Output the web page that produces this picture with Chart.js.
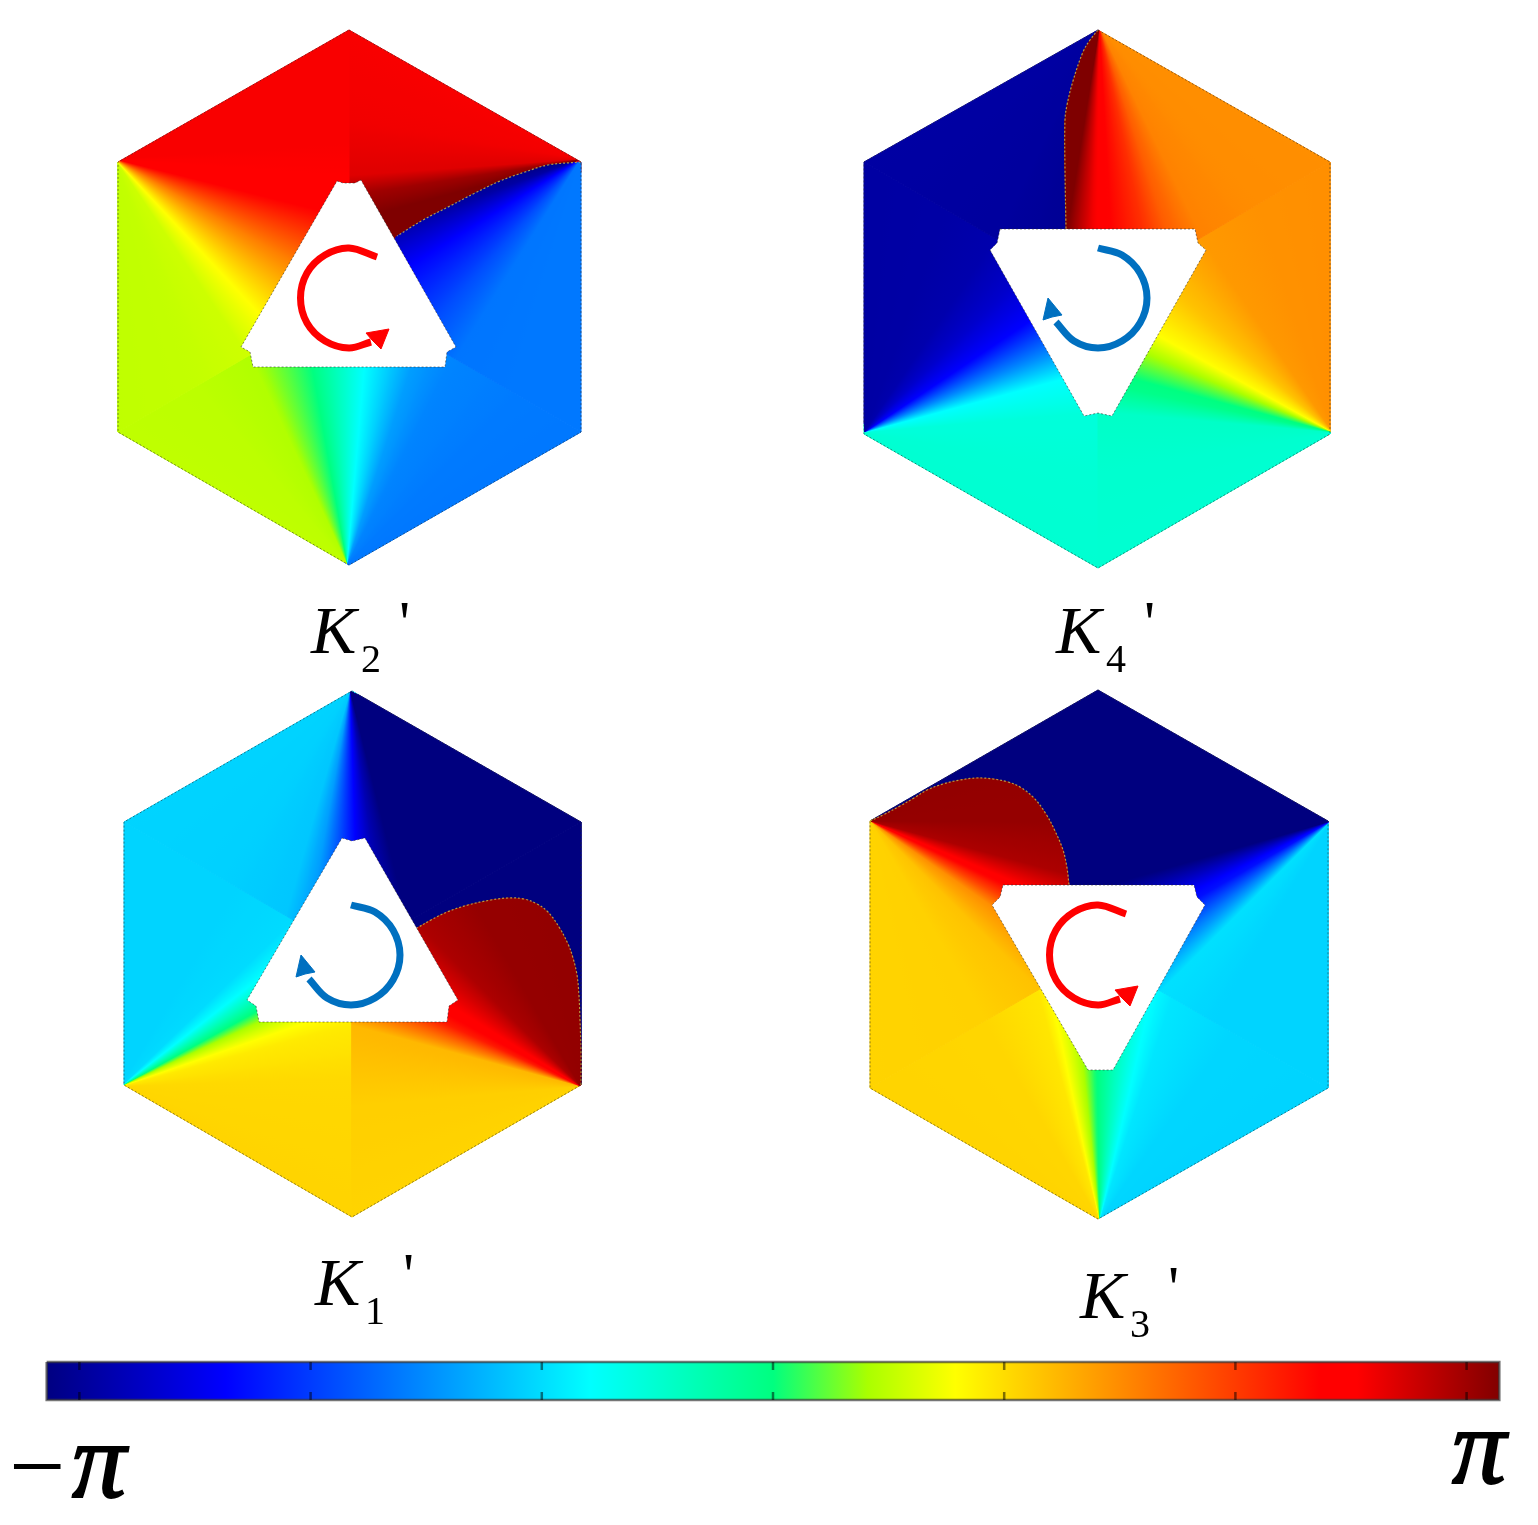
<!DOCTYPE html>
<html>
<head>
<meta charset="utf-8">
<title>Phase maps</title>
<script src="https://cdn.jsdelivr.net/npm/chart.js@4"></script>
<style>
  html, body { margin: 0; padding: 0; background: #fff; }
  canvas { display: block; }
</style>
</head>
<body>
<canvas id="chart" width="1538" height="1525"></canvas>
<script>
// Colour scale: phase in units of pi and the colour it has on the bar
const scalePhases = [-1, -0.75, -0.25, 0, 0.13, 0.25, 0.75, 0.8, 1];
const scaleColors = [[0,0,127],[0,0,255],[0,255,255],[0,255,128],[170,255,0],[255,255,0],[255,0,0],[255,0,0],[127,0,0]];
const barTicks = [-3, -2, -1, 0, 1, 2, 3];

// K2' : hexagon, hole, branch cut, arrow
const k2Hex = [[349,30],[581,162],[581,432],[349,565],[118,432],[118,162]];
const k2Hole = [[337,181],[343,183],[355,183],[361,180],[456,347],[447,352],[445,367],[253,367],[250,352],[241,347]];
const k2Cut = [[581,162],[548,165],[525,172],[500,181],[475,193],[450,206],[423,220],[397,236]];
const k2Arc = [[377,257],[349,248],[325,255],[307,273],[300.5,298],[307,323],[325,341],[349,348],[371,342]];
const k2Head = [[389,329],[366,333],[372,340],[381,349]];
const k2AngA = [-30, -5, 4, 12, 16, 30, 47, 56, 70, 90];
const k2PhaseA = [0.81, 0.81, 0.8, 0.78, 0.72, 0.5, 0.25, 0.18, 0.165, 0.16];
const k2AngB = [90, 105, 122, 132, 148, 160, 172];
const k2PhaseB = [-0.515, -0.515, -0.52, -0.6, -0.75, -0.93, -1];
const k2AngC = [158, 165, 171, 176, 190, 210];
const k2PhaseC = [1, 1, 0.95, 0.85, 0.82, 0.81];
const k2AngD = [210, 230, 245, 260, 275, 288, 297, 315, 330];
const k2PhaseD = [0.16, 0.155, 0.14, 0, -0.25, -0.44, -0.49, -0.51, -0.515];

// K4'
const k4Hex = [[1098,30],[1330,162],[1330,434],[1098,568],[864,434],[864,162]];
const k4Hole = [[1000,229],[1195,229],[1198,243],[1206,250],[1112,416],[1098,413],[1084,416],[990,250],[997,243]];
const k4Cut = [[1098,30],[1090,40],[1083,52],[1073,81],[1067,105],[1065,120],[1065,170],[1066,229]];
const k4Arc = [[1098,248],[1122,255],[1140,273],[1147,298],[1140,323],[1122,341],[1098,348],[1074,341],[1056,322]];
const k4Head = [[1048,298],[1043,320],[1052,317],[1062,315]];
const k4AngA = [30, 50, 64, 72, 78, 88, 92, 99];
const k4PhaseA = [0.47, 0.475, 0.495, 0.57, 0.66, 0.76, 0.82, 1];
const k4AngB = [99, 116, 150];
const k4PhaseB = [-0.96, -0.94, -0.93];
const k4AngC = [150, 170, 185, 192, 195, 203, 209, 222, 236, 252, 270];
const k4PhaseC = [-0.16, -0.155, -0.14, -0.02, 0, 0.13, 0.25, 0.37, 0.45, 0.465, 0.47];
const k4AngD = [-90, -70, -56, -45, -34, -24, -15, -5, 10, 30];
const k4PhaseD = [-0.93, -0.925, -0.91, -0.85, -0.75, -0.5, -0.25, -0.18, -0.165, -0.16];

// K1'
const k1Hex = [[352,691],[581,822],[581,1085],[352,1217],[124,1085],[124,822]];
const k1Hole = [[342,838],[352,841],[365,838],[458,1000],[449,1006],[447,1022],[259,1022],[256,1006],[247,1000]];
const k1Cut = [[581,1085],[581,1050],[580,1020],[579,996],[577,975],[573,958],[568,944],[559,927],[548,912],[537,904],[524,899],[508,898],[491,900],[468,905],[447,912],[431,920],[417,928]];
const k1Arc = [[351,905],[375,912],[393,930],[400,955],[393,980],[375,998],[351,1005],[327,998],[309,979]];
const k1Head = [[301,955],[296,977],[305,974],[315,972]];
const k1AngA = [30, 76, 82, 88, 94, 100, 106, 125, 150];
const k1PhaseA = [-1, -1, -0.9, -0.75, -0.6, -0.44, -0.36, -0.34, -0.335];
const k1AngB = [150, 175, 195, 205, 212, 225, 240, 270];
const k1PhaseB = [0.335, 0.345, 0.39, 0.7, 0.8, 0.93, 0.965, 0.97];
const k1AngC = [270, 300, 316, 322, 331, 335, 341, 345, 358, 390];
const k1PhaseC = [-0.335, -0.335, -0.32, -0.25, 0, 0.13, 0.25, 0.29, 0.325, 0.335];
const k1AngD = [200, 270];
const k1PhaseD = [-1, -1];

// K3'
const k3Hex = [[1098,690],[1328,821],[1328,1088],[1098,1219],[870,1088],[870,821]];
const k3Hole = [[1003,885],[1194,885],[1197,897],[1205,905],[1113,1070],[1088,1070],[992,905],[1000,897]];
const k3Cut = [[870,821],[885,814],[900,806],[914,798],[927,790],[943,784],[960,780],[977,778],[993,779],[1008,782],[1020,787],[1034,798],[1046,814],[1055,831],[1063,850],[1067,868],[1069,885]];
const k3Arc = [[1126,914],[1098,905],[1074,912],[1056,930],[1049.5,955],[1056,980],[1074,998],[1098,1005],[1120,999]];
const k3Head = [[1138,986],[1115,990],[1121,997],[1130,1006]];
const k3AngA = [-30, 0, 15, 24, 30, 35, 45, 60, 90];
const k3PhaseA = [0.97, 0.965, 0.93, 0.78, 0.62, 0.47, 0.37, 0.34, 0.335];
const k3AngB = [90, 120, 135, 140, 150, 153, 164, 210];
const k3PhaseB = [-0.335, -0.335, -0.31, -0.45, -0.72, -0.75, -1, -1];
const k3AngC = [210, 240, 255, 258, 264, 268, 272, 283, 288, 305, 330];
const k3PhaseC = [0.335, 0.33, 0.3, 0.25, 0.13, 0.02, -0.05, -0.25, -0.3, -0.33, -0.335];
const k3AngD = [-30, 40];
const k3PhaseD = [-1, -1];

// Labels under the panels
const labelNames = ['K', 'K', 'K', 'K'];
const labelSubs = ['2', '4', '1', '3'];
const labelX = [311, 1056, 315, 1080];
const labelY = [653, 653, 1305, 1318];

// Chart.js insets the chart area by half of the widest line, the scales make up for it
const lineInset = 3.5;

function lerp(a, b, t) { return a + (b - a) * t; }

function phaseColor(p) {
    let i = 0;
    while (i < scalePhases.length - 2 && p > scalePhases[i + 1]) i++;
    const t = Math.max(0, Math.min(1, (p - scalePhases[i]) / (scalePhases[i + 1] - scalePhases[i])));
    const c = scaleColors[i].map((v, k) => Math.round(lerp(v, scaleColors[i + 1][k], t)));
    return `rgb(${c[0]},${c[1]},${c[2]})`;
}

function fanGradient(chart, corner, angles, phases) {
    const cx = chart.scales.x.getPixelForValue(corner[0]);
    const cy = chart.scales.y.getPixelForValue(corner[1]);
    const start = angles[0] - 6;
    const g = chart.ctx.createConicGradient(start * Math.PI / 180, cx, cy);
    g.addColorStop(0, phaseColor(phases[0]));
    angles.forEach((a, i) => {
        if (i === 0) {
            g.addColorStop((a - start) / 360, phaseColor(phases[0]));
            return;
        }
        for (let s = 1; s <= 8; s++) {
            const t = s / 8;
            g.addColorStop((lerp(angles[i - 1], a, t) - start) / 360, phaseColor(lerp(phases[i - 1], phases[i], t)));
        }
    });
    return g;
}

function barGradient(chart) {
    const left = chart.scales.phase.getPixelForValue(-Math.PI);
    const right = chart.scales.phase.getPixelForValue(Math.PI);
    const g = chart.ctx.createLinearGradient(left, 0, right, 0);
    scalePhases.forEach(p => g.addColorStop((p + 1) / 2, phaseColor(p)));
    return g;
}

function asPoints(list) {
    return list.map(p => ({ x: p[0], y: p[1] }));
}

function closed(list) {
    return asPoints(list.concat([list[0]]));
}

const datasets = [];
const fanSets = [];

function addShape(list, fill, stroke, width, order, dash) {
    const ds = {
        data: closed(list),
        showLine: true,
        fill: fill ? 'shape' : false,
        backgroundColor: fill || 'transparent',
        borderColor: stroke,
        borderWidth: width,
        borderDash: dash || [],
        pointRadius: 0,
        order: order,
        clip: false
    };
    datasets.push(ds);
    return ds;
}

function addFan(list, corner, angles, phases) {
    const ds = addShape(list, '#ffffff', 'transparent', 1, 50);
    fanSets.push({ ds, corner, angles, phases });
}

function addLine(list, color, width, order, tension, dash) {
    datasets.push({
        data: asPoints(list),
        showLine: true,
        fill: false,
        borderColor: color,
        borderWidth: width,
        borderDash: dash || [],
        tension: tension,
        pointRadius: 0,
        order: order,
        clip: false
    });
}

function addPanel(hex, hole, cut, arc, head, color) {
    addShape(hex, null, 'rgba(40,40,40,0.55)', 1, 20, [2, 2]);
    addLine(cut, 'rgba(190,170,70,0.9)', 1.2, 21, 0.4, [2, 2]);
    addShape(hole, '#ffffff', 'rgba(40,40,40,0.55)', 1, 10, [2, 2]);
    addLine(arc, color, 7, 5, 0.35);
    addShape(head, color, color, 1, 5);
}

// K2' sectors
const k2Mid = [349, 297];
addFan([k2Hex[0], k2Hex[5], k2Hex[4], k2Mid], k2Hex[5], k2AngA, k2PhaseA);
addFan(k2Cut.concat([k2Mid, k2Hex[2]]), k2Hex[1], k2AngB, k2PhaseB);
addFan(k2Cut.concat([k2Mid, k2Hex[0]]), k2Hex[1], k2AngC, k2PhaseC);
addFan([k2Hex[4], k2Hex[3], k2Hex[2], k2Mid], k2Hex[3], k2AngD, k2PhaseD);
addPanel(k2Hex, k2Hole, k2Cut, k2Arc, k2Head, '#ff0000');

// K4' sectors
const k4Mid = [1098, 298];
addFan(k4Cut.concat([k4Mid, k4Hex[1]]), k4Hex[0], k4AngA, k4PhaseA);
addFan(k4Cut.concat([k4Mid, k4Hex[5]]), k4Hex[0], k4AngB, k4PhaseB);
addFan([k4Hex[1], k4Hex[2], k4Hex[3], k4Mid], k4Hex[2], k4AngC, k4PhaseC);
addFan([k4Hex[3], k4Hex[4], k4Hex[5], k4Mid], k4Hex[4], k4AngD, k4PhaseD);
addPanel(k4Hex, k4Hole, k4Cut, k4Arc, k4Head, '#0070c0');

// K1' sectors
const k1Mid = [352, 954];
addFan([k1Hex[5], k1Hex[0], k1Hex[1], k1Mid], k1Hex[0], k1AngA, k1PhaseA);
addFan(k1Cut.concat([k1Mid, k1Hex[3]]), k1Hex[2], k1AngB, k1PhaseB);
addFan([k1Hex[3], k1Hex[4], k1Hex[5], k1Mid], k1Hex[4], k1AngC, k1PhaseC);
addFan(k1Cut.concat([k1Mid, k1Hex[1]]), k1Hex[2], k1AngD, k1PhaseD);
addPanel(k1Hex, k1Hole, k1Cut, k1Arc, k1Head, '#0070c0');

// K3' sectors
const k3Mid = [1098, 955];
addFan(k3Cut.concat([k3Mid, k3Hex[4]]), k3Hex[5], k3AngA, k3PhaseA);
addFan([k3Hex[0], k3Hex[1], k3Hex[2], k3Mid], k3Hex[1], k3AngB, k3PhaseB);
addFan([k3Hex[2], k3Hex[3], k3Hex[4], k3Mid], k3Hex[3], k3AngC, k3PhaseC);
addFan(k3Cut.concat([k3Mid, k3Hex[0]]), k3Hex[5], k3AngD, k3PhaseD);
addPanel(k3Hex, k3Hole, k3Cut, k3Arc, k3Head, '#ff0000');

// Colour bar runs on the phase axis, in radians
const barShape = [{ x: -Math.PI, y: 1362 }, { x: Math.PI, y: 1362 }, { x: Math.PI, y: 1400 }, { x: -Math.PI, y: 1400 }, { x: -Math.PI, y: 1362 }];
const barSet = {
    data: barShape,
    xAxisID: 'phase',
    showLine: true,
    fill: 'shape',
    backgroundColor: '#ffffff',
    borderColor: 'rgba(60,60,60,0.7)',
    borderWidth: 2.5,
    pointRadius: 0,
    order: 30,
    clip: false
};
datasets.push(barSet);
barTicks.forEach(t => {
    [[1362, 1370], [1392, 1400]].forEach(span => {
        datasets.push({
            data: [{ x: t, y: span[0] }, { x: t, y: span[1] }],
            xAxisID: 'phase',
            showLine: true,
            fill: false,
            borderColor: 'rgba(0,0,0,0.5)',
            borderWidth: 2.5,
            pointRadius: 0,
            order: 29,
            clip: false
        });
    });
});

const textPlugin = {
    id: 'panelText',
    afterDatasetsDraw(chart) {
        const { ctx, scales } = chart;
        ctx.save();
        ctx.fillStyle = '#000';
        ctx.strokeStyle = '#000';
        ctx.textBaseline = 'alphabetic';
        ctx.textAlign = 'left';
        labelNames.forEach((name, i) => {
            const x = scales.x.getPixelForValue(labelX[i]);
            const y = scales.y.getPixelForValue(labelY[i]);
            ctx.font = 'italic 68px "Liberation Serif"';
            ctx.fillText(name, x, y);
            ctx.font = '40px "Liberation Serif"';
            ctx.fillText(labelSubs[i], x + 50, y + 19);
            ctx.font = '62px "Liberation Serif"';
            ctx.fillText("'", x + 88, y - 10);
        });
        ctx.font = '100px "Liberation Serif"';
        ctx.fillText('\u2212', 9, scales.y.getPixelForValue(1500));
        ctx.font = 'italic 108px "Liberation Serif"';
        ctx.lineWidth = 2;
        const piLeft = [scales.x.getPixelForValue(72), scales.y.getPixelForValue(1497)];
        const piRight = [scales.x.getPixelForValue(1452), scales.y.getPixelForValue(1483)];
        [piLeft, piRight].forEach(p => {
            ctx.fillText('\u03c0', p[0], p[1]);
            ctx.strokeText('\u03c0', p[0], p[1]);
        });
        ctx.restore();
    }
};

const chart = new Chart(document.getElementById('chart'), {
    type: 'scatter',
    data: { datasets: datasets },
    options: {
        responsive: false,
        animation: false,
        events: [],
        layout: { padding: 0 },
        plugins: { legend: { display: false }, tooltip: { enabled: false } },
        scales: {
            x: { type: 'linear', display: false, min: lineInset, max: 1538 - lineInset },
            phase: { type: 'linear', axis: 'x', display: false, min: (lineInset - 773) / 231.2, max: (1538 - lineInset - 773) / 231.2 },
            y: { type: 'linear', display: false, reverse: true, min: lineInset, max: 1525 - lineInset }
        }
    },
    plugins: [textPlugin]
});

// Gradients need the laid out scales, so they go in after the first layout
fanSets.forEach(f => {
    const g = fanGradient(chart, f.corner, f.angles, f.phases);
    f.ds.backgroundColor = g;
    f.ds.borderColor = g;
});
barSet.backgroundColor = barGradient(chart);
chart.update('none');
</script>
</body>
</html>
